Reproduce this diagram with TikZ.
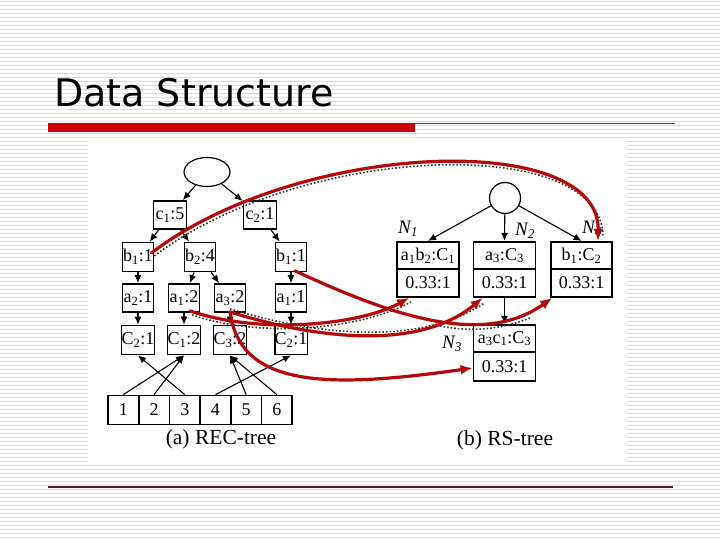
\documentclass[tikz,border=0pt]{standalone}
\usepackage{fontspec}
\setmainfont{Liberation Serif}
\newfontfamily\titlefont{DejaVu Sans}
\usetikzlibrary{arrows.meta,shapes.geometric}
\definecolor{stripe}{RGB}{220,220,220}
\definecolor{barred}{RGB}{204,0,0}
\definecolor{thinred}{RGB}{150,30,40}
\definecolor{botline}{RGB}{85,30,45}
\definecolor{curvered}{RGB}{178,10,10}
\newcommand\boxfont{\fontsize{18}{18}\selectfont}
\newcommand\sbs[1]{\textsubscript{#1}}
\tikzset{
  bx/.style={draw, line width=1.8pt, minimum width=31pt, minimum height=29pt, inner sep=0pt, font=\boxfont},
  cellbox/.style={draw, line width=1.8pt, minimum width=30.7pt, minimum height=29pt, inner sep=0pt, font=\boxfont},
  rsbox/.style={draw, line width=1.8pt, minimum width=62pt, minimum height=27.5pt, inner sep=0pt, font=\boxfont},
  edgearrow/.style={line width=1.1pt, -{Latex[length=8pt,width=7pt]}},
  redcurve/.style={draw=curvered, line width=3.2pt, line cap=round, -{Latex[length=12pt,width=10pt]}},
  dotline/.style={dotted, line width=1.6pt, black!80},
  nlabel/.style={font=\fontsize{19}{19}\selectfont\itshape, inner sep=0pt},
  caption/.style={font=\fontsize{21.5}{21.5}\selectfont, inner sep=0pt},
}
\begin{document}
\begin{tikzpicture}[x=1pt,y=-1pt]
\useasboundingbox (0,0) rectangle (720,540);
% background stripes
\fill[white] (0,0) rectangle (720,540);
\foreach \i in {0,...,134} {
  \fill[stripe] (0,\i*4+1) rectangle (720,\i*4+2.4);
}
% title
\node[anchor=base west, inner sep=0pt, font=\titlefont\fontsize{38}{38}\selectfont] (title) at (54,107) {Data Structure};
\fill[barred] (48,123.5) rectangle (415,132.5);
\draw[thinred, line width=1pt] (415,124) -- (675,124);
\draw[botline, line width=1.6pt] (48,487) -- (673,487);
% picture area
\fill[white] (88,140) rectangle (627,463);

% ===== (a) REC-tree =====
\node[draw, ellipse, line width=1.2pt, minimum width=46pt, minimum height=29pt, inner sep=0pt] (root) at (207,172) {};
\node[bx, minimum width=33pt, minimum height=28pt] (c1) at (170,215) {c\sbs{1}:5};
\node[bx, minimum width=33pt, minimum height=28pt] (c2) at (260,215) {c\sbs{2}:1};
\node[bx] (b1L) at (138,257) {b\sbs{1}:1};
\node[bx] (b2) at (200,257) {b\sbs{2}:4};
\node[bx] (b1R) at (291,257) {b\sbs{1}:1};
\node[bx, minimum height=28pt] (a2) at (138,298) {a\sbs{2}:1};
\node[bx, minimum height=28pt] (a1) at (184,298) {a\sbs{1}:2};
\node[bx, minimum height=28pt] (a3) at (230,298) {a\sbs{3}:2};
\node[bx, minimum height=28pt] (a1R) at (291,298) {a\sbs{1}:1};
\node[bx] (C2L) at (138,340) {C\sbs{2}:1};
\node[bx] (C1) at (184,340) {C\sbs{1}:2};
\node[bx] (C3) at (230,340) {C\sbs{3}:2};
\node[bx] (C2R) at (291,340) {C\sbs{2}:1};
\foreach \k in {1,...,6} {
  \node[cellbox] (cell\k) at ({108+30.7*(\k-0.5)},410) {\k};
}
\node[caption] (capA) at (221,439) {(a) REC-tree};

\draw[edgearrow] (root) -- (c1);
\draw[edgearrow] (root) -- (c2);
\draw[edgearrow] (c1) -- (b1L);
\draw[edgearrow] (c1) -- (b2);
\draw[edgearrow] (c2) -- (b1R);
\draw[edgearrow] (b1L) -- (a2);
\draw[edgearrow] (b2) -- (a1);
\draw[edgearrow] (b2) -- (a3);
\draw[edgearrow] (b1R) -- (a1R);
\draw[edgearrow] (a2) -- (C2L);
\draw[edgearrow] (a1) -- (C1);
\draw[edgearrow] (a3) -- (C3);
\draw[edgearrow] (a1R) -- (C2R);
\draw[edgearrow] (cell1.north) -- (C1.south);
\draw[edgearrow] (cell2.north) -- (C1.south);
\draw[edgearrow] (cell3.north) -- (C2L.south);
\draw[edgearrow] (cell4.north) -- (C2R.south);
\draw[edgearrow] (cell5.north) -- (C3.south);
\draw[edgearrow] (cell6.north) -- (C3.south);

% ===== (b) RS-tree =====
\node[draw, circle, line width=1.2pt, minimum size=31pt, inner sep=0pt] (rroot) at (505,198) {};
\node[rsbox] (N1t) at (428,255.5) {a\sbs{1}b\sbs{2}:C\sbs{1}};
\node[rsbox, minimum height=28pt] (N1b) at (428,283) {0.33:1};
\node[rsbox] (N2t) at (504.5,255.5) {a\sbs{3}:C\sbs{3}};
\node[rsbox, minimum height=28pt] (N2b) at (504.5,283) {0.33:1};
\node[rsbox, minimum width=61pt] (N4t) at (581.5,255.5) {b\sbs{1}:C\sbs{2}};
\node[rsbox, minimum width=61pt, minimum height=28pt] (N4b) at (581.5,283) {0.33:1};
\node[rsbox] (N3t) at (504.5,338.5) {a\sbs{3}c\sbs{1}:C\sbs{3}};
\node[rsbox, minimum height=29pt] (N3b) at (504.5,366.5) {0.33:1};
\node[nlabel] (lN1) at (408,229) {N\sbs{1}};
\node[nlabel] (lN2) at (525,231) {N\sbs{2}};
\node[nlabel] (lN4) at (592,229) {N\sbs{4}};
\node[nlabel] (lN3) at (452,344) {N\sbs{3}};
\node[caption] (capB) at (505,440) {(b) RS-tree};

\draw[edgearrow] (rroot) -- (N1t.north);
\draw[edgearrow] (rroot) -- (N2t.north);
\draw[edgearrow] (rroot) -- (N4t.north);
\draw[edgearrow] (N2b.south) -- (N3t.north);

% ===== red curves =====
\coordinate (r1s) at ([shift={(-3,-4)}]b1L.east);
\coordinate (r1e) at ([shift={(16.5,0)}]N4t.north);
\coordinate (r2s) at ([shift={(4,-1.5)}]b1R.south);
\coordinate (r2e) at ([shift={(2,0)}]N4b.south west);
\coordinate (r3s) at ([shift={(6,-2)}]a1.south);
\coordinate (r3e) at ([shift={(13,0)}]N1b.south west);
\coordinate (r4s) at ([shift={(0,-1)}]a3.south);
\coordinate (r4e) at ([shift={(10,0)}]N2b.south west);
\coordinate (r5e) at ([shift={(0,1.5)}]N3b.west);

\draw[dotline] ([shift={(3,3)}]r1s) .. controls (303,143) and (603,133) .. ([shift={(5,-4)}]r1e);
\draw[dotline] ([shift={(2,4)}]r3s) .. controls (262,339) and (362,329) .. ([shift={(2,4)}]r3e);
\draw[dotline] ([shift={(0,-3)}]r4s) .. controls (320,336) and (420,346) .. ([shift={(2,5)}]r4e);
\draw[dotline] (440,326) .. controls (470,332) and (500,330) .. (530,318);

\draw[redcurve] (r1s) .. controls (300,140) and (600,130) .. (r1e);
\draw[redcurve] (r2s) .. controls (380,310) and (480,350) .. (r2e);
\draw[redcurve] (r3s) .. controls (260,335) and (360,325) .. (r3e);
\draw[redcurve] (r4s) .. controls (320,340) and (420,350) .. (r4e);
\draw[redcurve] (r4s) .. controls (240,385) and (320,390) .. (r5e);
\end{tikzpicture}
\end{document}
